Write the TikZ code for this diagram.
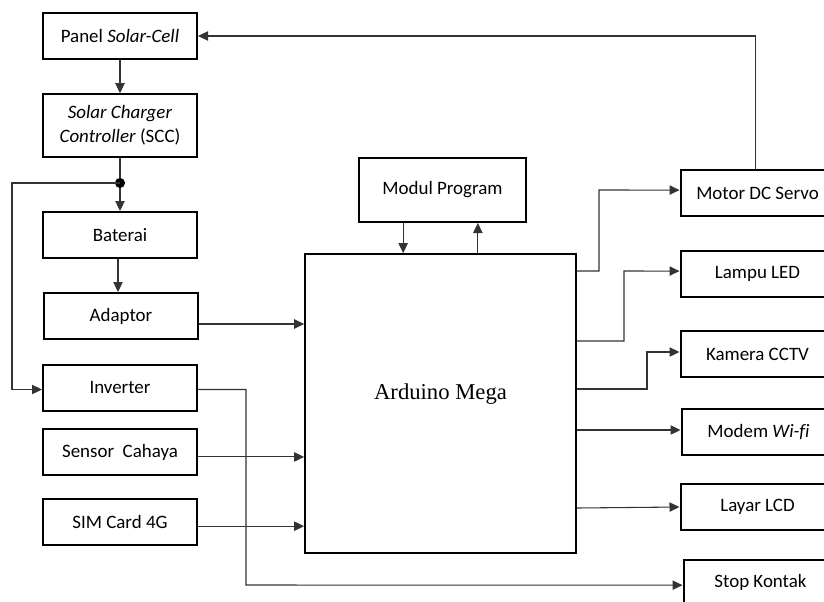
\documentclass[tikz,border=0pt]{standalone}
\usepackage{fontspec}
\setmainfont{Carlito}[Ligatures=NoCommon]
\newfontfamily\serifmega{Liberation Serif}
\usetikzlibrary{arrows.meta}

\tikzset{
  blok/.style={draw, line width=1.5pt, minimum width=115.5pt, minimum height=34.5pt,
    inner sep=0pt, align=center, font=\fontsize{14.2}{18}\selectfont},
  panah/.style={line width=0.8pt, draw=black!80, -{Triangle[length=7.5pt,width=7pt]}},
  garis/.style={line width=0.8pt, draw=black!80}
}

\begin{document}
\begin{tikzpicture}[x=0.75pt, y=-0.75pt]
  \useasboundingbox (0,0) rectangle (824,601);
  \clip (0,0) rectangle (824,601);

  % Blok kiri
  \node[blok] (panel) at (120,36) {Panel \textit{Solar-Cell}};
  \node[blok, minimum height=47pt] (scc) at (120,125.5) {\textit{Solar Charger}\\\textit{Controller} (SCC)};
  \node[blok] (baterai) at (120,235) {Baterai};
  \node[blok] (adaptor) at (121,316) {Adaptor};
  \node[blok] (inverter) at (120,387.5) {Inverter};
  \node[blok] (sensor) at (120,452) {Sensor~ Cahaya};
  \node[blok] (sim) at (120,521.5) {SIM Card 4G};

  % Blok tengah
  \node[blok, minimum width=203pt, minimum height=224pt,
    label={[font=\serifmega\fontsize{17}{20}\selectfont, yshift=7pt]center:Arduino Mega}] (mega) at (440.5,403.5) {};
  \node[blok, minimum width=125pt, minimum height=48pt] (modul) at (442.5,190) {Modul Program};

  % Blok kanan
  \node[blok] (servo) at (757.5,193) {Motor DC Servo};
  \node[blok] (lampu) at (757.5,274) {Lampu LED};
  \node[blok] (kamera) at (757.5,354) {Kamera CCTV};
  \node[blok] (modem) at (758.5,432) {Modem \textit{Wi-fi}};
  \node[blok] (layar) at (757.5,507) {Layar LCD};
  \node[blok] (stop) at (760.5,582.5) {Stop Kontak};

  % Titik cabang
  \coordinate (cabang) at (120,183);
  \coordinate (kiri) at (12,183);

  % Jalur daya
  \draw[panah] (panel) -- (scc);
  \draw[garis] (scc) -- (cabang);
  \draw[panah] (cabang) -- (baterai);
  \fill (cabang) circle (3.8pt);
  \draw[panah] ([xshift=-1.5pt]baterai.south) -- ([xshift=-1.5pt]adaptor.north -| baterai.south);
  \draw[panah] (cabang) -- (kiri) |- ([yshift=-1.5pt]inverter.west);
  \draw[panah] ([yshift=-1.5pt]inverter.east) -| (246,585) -- ([yshift=-2pt]stop.west);

  % Masukan Arduino
  \draw[panah] ([yshift=-6pt]adaptor.east) -- ([yshift=-6pt]adaptor.east -| mega.west);
  \draw[panah] ([yshift=-3.7pt]sensor.east) -- ([yshift=-3.7pt]sensor.east -| mega.west);
  \draw[panah] ([yshift=-3.5pt]sim.east) -- ([yshift=-3.5pt]sim.east -| mega.west);

  % Modul program
  \draw[panah] ([xshift=-29.5pt]modul.south) -- ([xshift=-29.5pt]modul.south |- mega.north);
  \draw[panah] ([xshift=26.5pt]modul.south |- mega.north) -- ([xshift=26.5pt]modul.south);

  % Keluaran Arduino
  \draw[panah] (mega.east |- 0,271) -| (599,190) -- ([yshift=2.2pt]servo.west);
  \draw[panah] (mega.east |- 0,341) -| (624,271) -- ([yshift=2.2pt]lampu.west);
  \draw[panah] (mega.east |- 0,389) -| (647,352) -- ([yshift=1.5pt]kamera.west);
  \draw[panah] (mega.east |- 0,430) -- ([yshift=1.5pt]modem.west);
  \draw[panah] (mega.east |- 0,508) -- (layar.west);

  % Umpan balik servo ke panel
  \draw[panah] (servo.north -| 755.7,0) |- (panel.east);
\end{tikzpicture}
\end{document}
